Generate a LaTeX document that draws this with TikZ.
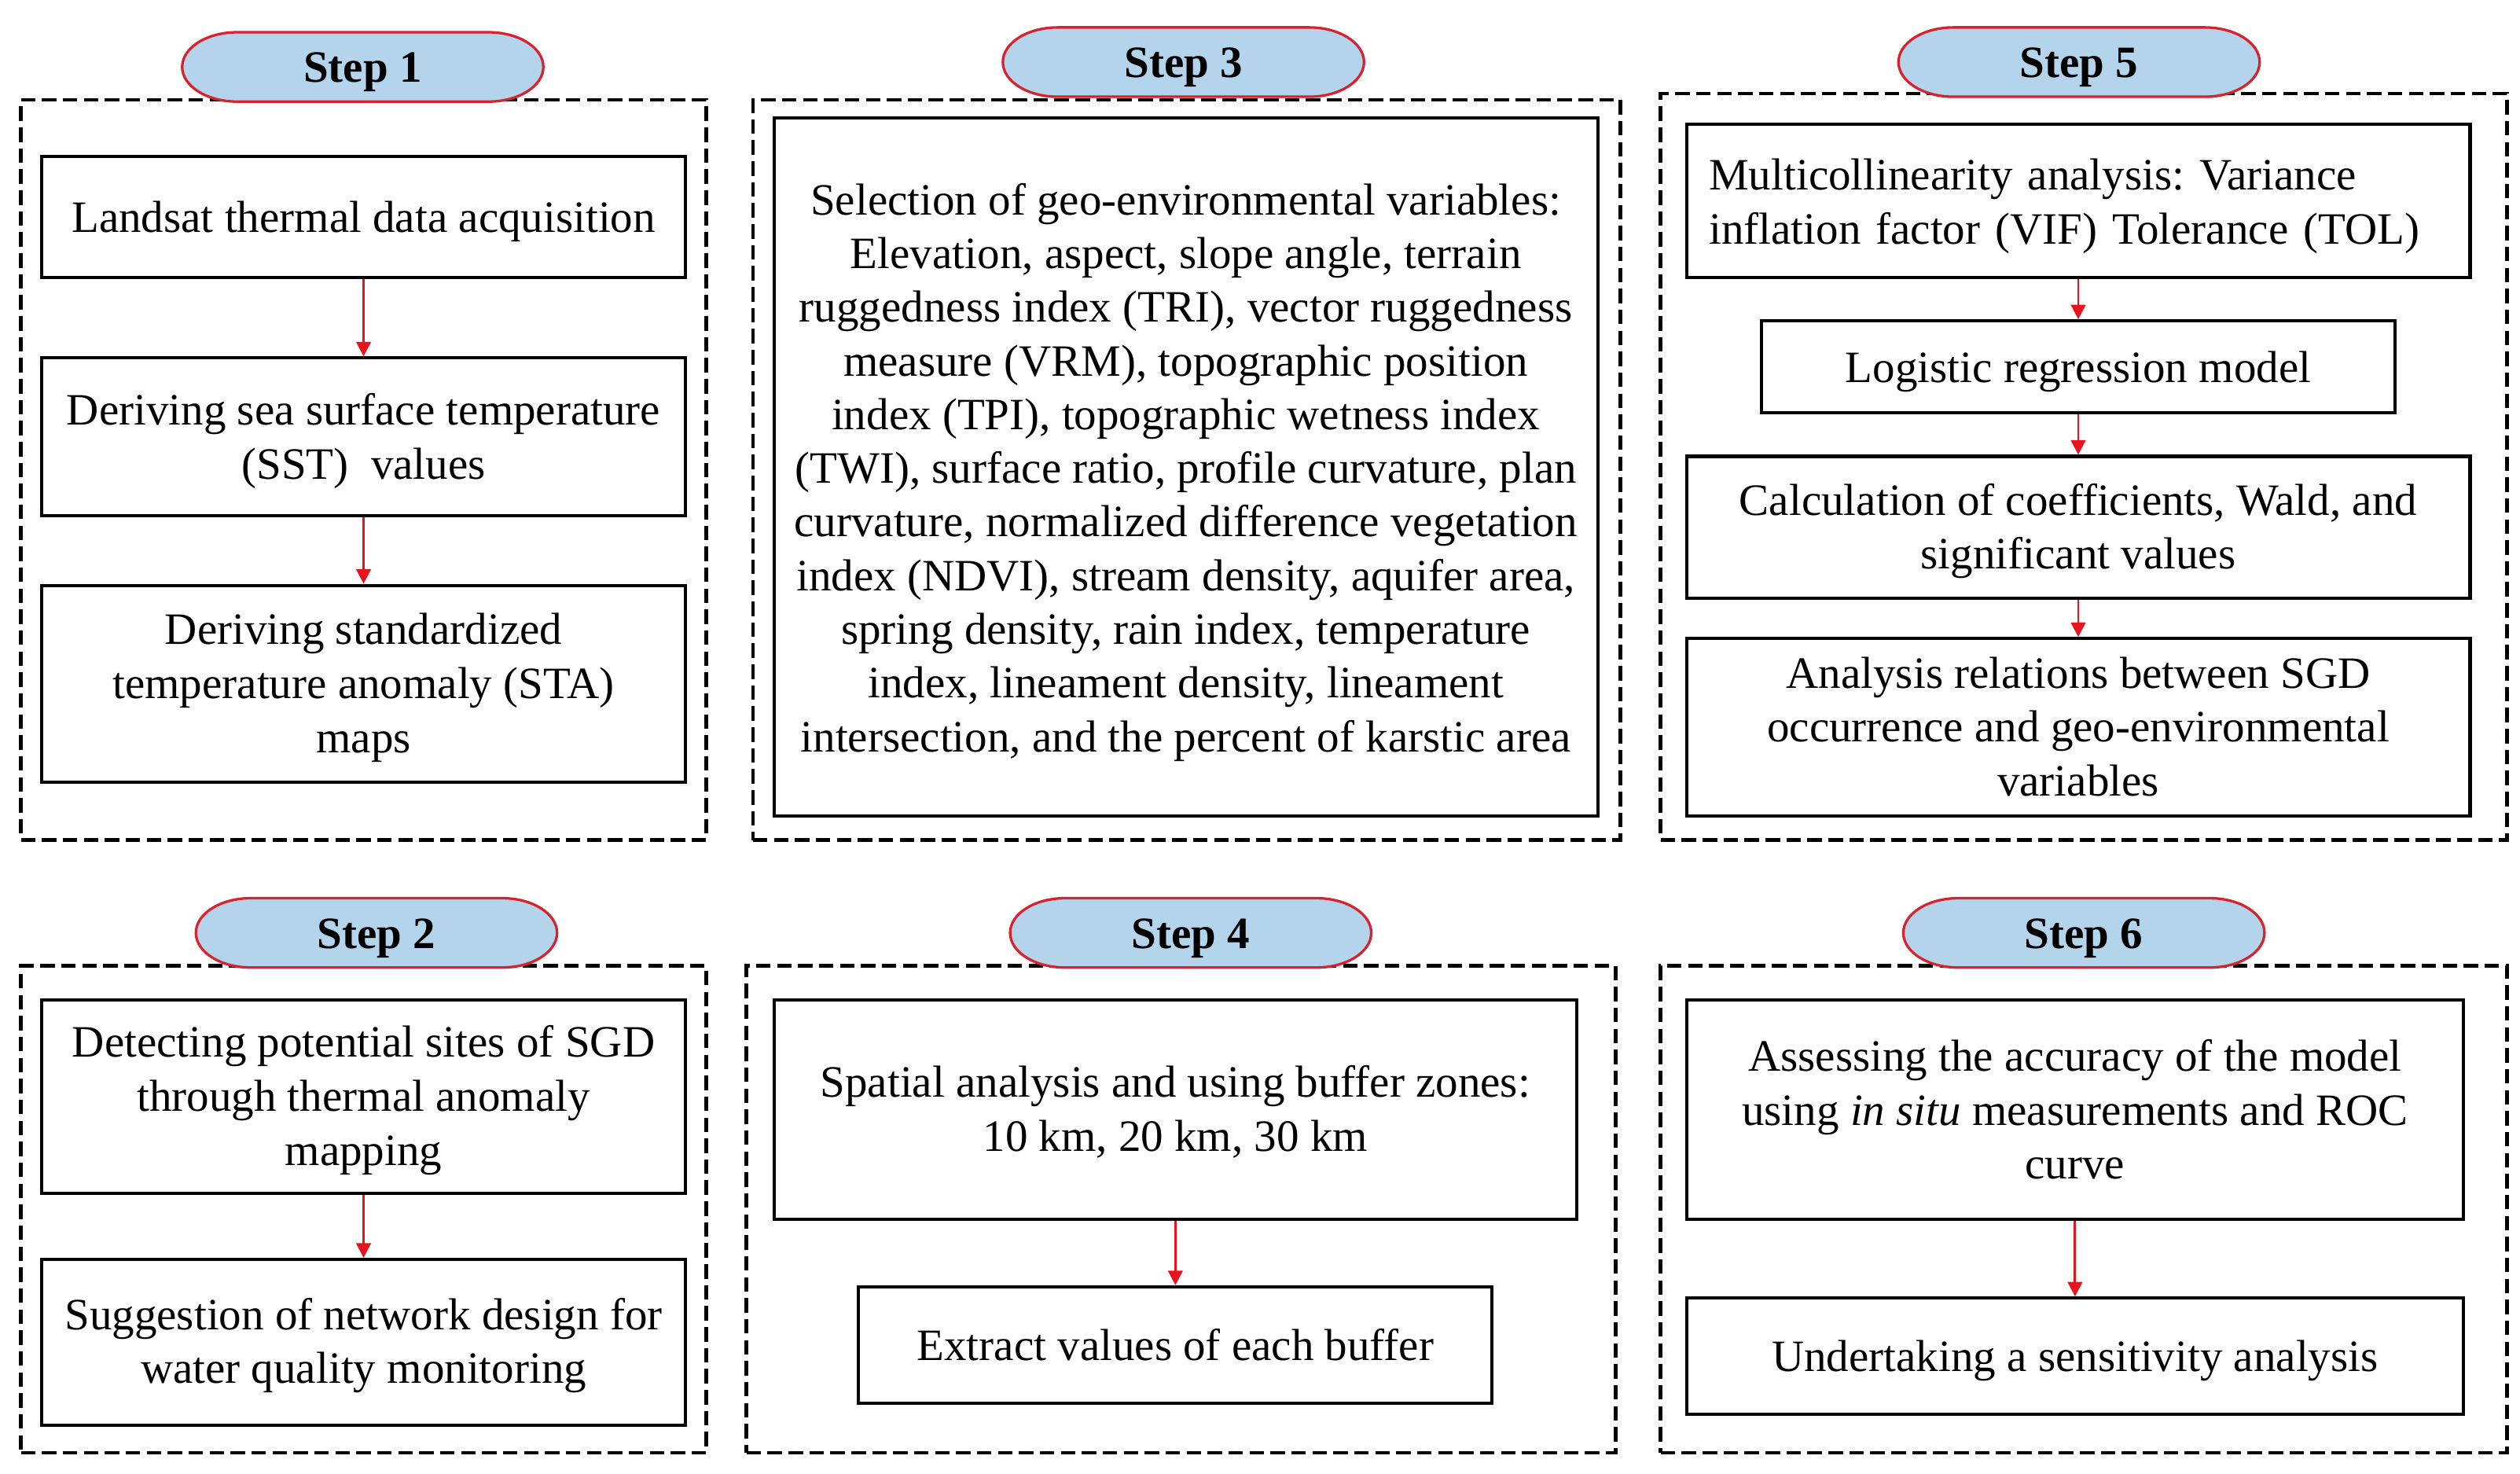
\documentclass[tikz,border=0pt]{standalone}
\usepackage{fontspec}
\setmainfont{Liberation Serif}
\usetikzlibrary{arrows.meta}
\frenchspacing
\definecolor{pillblue}{RGB}{180,212,236}
\definecolor{pillred}{RGB}{215,35,45}
\definecolor{arrred}{RGB}{230,20,30}
\newcommand{\txtsize}{\fontsize{27.8pt}{33.5pt}\selectfont}
\newcommand{\lowerstrut}{\rule{0pt}{25pt}}
\newcommand{\ml}[2][6pt]{\vbox{\kern#1\hbox{\begin{tabular}{@{}c@{}}#2\end{tabular}}}}
\newcommand{\mll}[2][6pt]{\vbox{\kern#1\hbox{\begin{tabular}{@{}l@{}}#2\end{tabular}}}}
\tikzset{
  panel/.style={draw=black, line width=2.2pt, dash pattern=on 9pt off 4pt, inner sep=0pt},
  bx/.style={draw=black, line width=2pt, inner sep=0pt, font=\txtsize, fill=white},
  steplabel/.style={font=\txtsize\bfseries, inner sep=0pt, execute at begin node=\lowerstrut},
  pillshape/.style={draw=pillred, fill=pillblue, line width=1.6pt},
  arr/.style={draw=arrred, line width=1.4pt, -{Triangle[width=9pt,length=9pt]}},
}
\newcommand{\steppill}[3]{%
  \begin{scope}[shift={(#2)}]
    \path[pillshape] (-78,-21.5) -- (78,-21.5)
      arc[start angle=90,end angle=-90,x radius=34pt,y radius=21.5pt]
      -- (-78,21.5)
      arc[start angle=270,end angle=90,x radius=34pt,y radius=21.5pt] -- cycle;
  \end{scope}
  \node[steplabel] (#1) at (#2) {#3};}
\begin{document}
\begin{tikzpicture}[x=1pt,y=-1pt]
\useasboundingbox (0,0) rectangle (1563,914);
\fill[white] (0,0) rectangle (1563,914);

% dashed panels
\node[panel, minimum width=425pt, minimum height=459pt] (g1) at (225.5,291.5) {};
\node[panel, minimum width=538pt, minimum height=459pt] (g3) at (736,291.5) {};
\node[panel, minimum width=525pt, minimum height=463pt] (g5) at (1292.5,289.5) {};
\node[panel, minimum width=425pt, minimum height=302pt] (g2) at (225.5,750) {};
\node[panel, minimum width=539pt, minimum height=302pt] (g4) at (732.5,750) {};
\node[panel, minimum width=525pt, minimum height=302pt] (g6) at (1292.5,750) {};

% step pills
\steppill{p1}{225,41.5}{Step 1}
\steppill{p3}{734,38.5}{Step 3}
\steppill{p5}{1289.5,38.5}{Step 5}
\steppill{p2}{233.5,578.5}{Step 2}
\steppill{p4}{738.5,578.5}{Step 4}
\steppill{p6}{1292.5,578.5}{Step 6}

% Step 1
\node[bx, minimum width=399pt, minimum height=75pt] (a1) at (225.5,134.5) {\ml{Landsat thermal data acquisition}};
\node[bx, minimum width=399pt, minimum height=98pt] (b1) at (225.5,271) {\ml[5pt]{Deriving sea surface temperature\\(SST)\ \ values}};
\node[bx, minimum width=399pt, minimum height=122pt] (c1) at (225.5,424) {\ml[5pt]{Deriving standardized\\temperature anomaly (STA)\\maps}};
\draw[arr] (a1) -- (b1);
\draw[arr] (b1) -- (c1);

% Step 3
\node[bx, font=\fontsize{27.8pt}{33.3pt}\selectfont, minimum width=511pt, minimum height=433pt] (t3) at (735.5,289.5) {\ml[7pt]{Selection of geo-environmental variables:\\
Elevation, aspect, slope angle, terrain\\
ruggedness index (TRI), vector ruggedness\\
measure (VRM), topographic position\\
index (TPI), topographic wetness index\\
(TWI), surface ratio, profile curvature, plan\\
curvature, normalized difference vegetation\\
index (NDVI), stream density, aquifer area,\\
spring density, rain index, temperature\\
index, lineament density, lineament\\
intersection, and the percent of karstic area}};

% Step 5
\node[bx, text width=458pt, inner xsep=14pt, minimum height=95pt] (m5) at (1289,124.5) {\mll[7pt]{Multicollinearity analysis: Variance\\inflation factor (VIF) Tolerance (TOL)}};
\node[bx, minimum width=393pt, minimum height=57pt] (l5) at (1289,227.5) {\ml{Logistic regression model}};
\node[bx, minimum width=486pt, minimum height=88pt] (k5) at (1289,327) {\ml[5pt]{Calculation of coefficients, Wald, and\\significant values}};
\node[bx, minimum width=486pt, minimum height=110pt] (r5) at (1289,451) {\ml[5pt]{Analysis relations between SGD\\occurrence and geo-environmental\\variables}};
\draw[arr] (m5) -- (l5);
\draw[arr] (l5) -- (k5);
\draw[arr] (k5) -- (r5);

% Step 2
\node[bx, minimum width=399pt, minimum height=120pt] (d2) at (225.5,680) {\ml[5pt]{Detecting potential sites of SGD\\through thermal anomaly\\mapping}};
\node[bx, minimum width=399pt, minimum height=103pt] (s2) at (225.5,832.5) {\ml[4pt]{Suggestion of network design for\\water quality monitoring}};
\draw[arr] (d2) -- (s2);

% Step 4
\node[bx, minimum width=498pt, minimum height=136pt] (sp4) at (729,688) {\ml[5pt]{Spatial analysis and using buffer zones:\\10 km, 20 km, 30 km}};
\node[bx, minimum width=393pt, minimum height=72pt] (e4) at (729,834) {\ml{Extract values of each buffer}};
\draw[arr] (sp4) -- (e4);

% Step 6
\node[bx, minimum width=482pt, minimum height=136pt] (as6) at (1287,688) {\ml[6pt]{Assessing the accuracy of the model\\using \textit{in situ} measurements and ROC\\curve}};
\node[bx, minimum width=482pt, minimum height=72pt] (u6) at (1287,841) {\ml{Undertaking a sensitivity analysis}};
\draw[arr] (as6) -- (u6);
\end{tikzpicture}
\end{document}
